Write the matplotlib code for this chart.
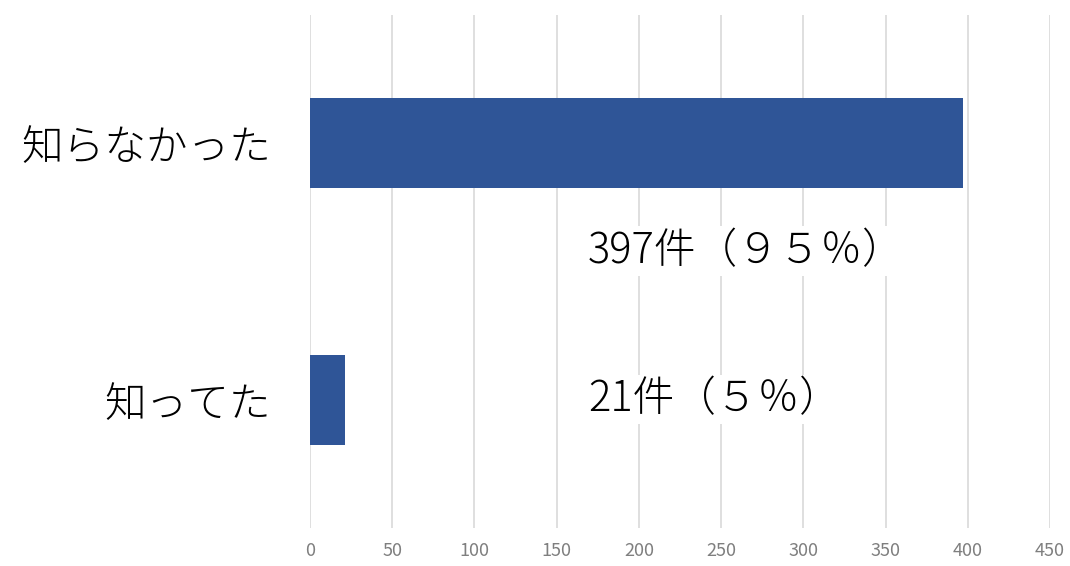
import matplotlib
matplotlib.use('Agg')
import matplotlib.pyplot as plt
import numpy as np

# --- Data ---
categories = ['知らなかった', '知ってた']
counts = [397, 21]
labels = ['397件（９５％）', '21件（５％）']
label_x = [169, 169]
label_y_offset = [0.42, 0.0]

BAR_COLOR = '#2f5597'
GRID_COLOR = '#d9d9d9'
TICK_COLOR = '#7f7f7f'

plt.rcParams['font.family'] = ['Noto Sans CJK JP', 'DejaVu Sans']

fig = plt.figure(figsize=(10.7, 5.66), dpi=100)
ax = fig.add_axes([0.2897, 0.0671, 0.6916, 0.9064])

y = np.arange(len(categories))
ax.barh(y, counts, height=0.35, color=BAR_COLOR, zorder=3)

# value labels with white background (cuts the gridlines)
for i, txt in enumerate(labels):
    ax.text(label_x[i], y[i] + label_y_offset[i], txt, ha='left', va='center',
            fontsize=30, color='black', fontweight='light', zorder=4,
            bbox=dict(facecolor='white', edgecolor='none', pad=2))

ax.set_xlim(0, 450)
ax.set_ylim(len(categories) - 0.5, -0.5)
ax.set_xticks(np.arange(0, 451, 50))
ax.set_yticks(y)
ax.set_yticklabels(categories, fontsize=30, fontweight='light')
ax.tick_params(axis='y', length=0, pad=28)
ax.tick_params(axis='x', length=0, labelsize=13, labelcolor=TICK_COLOR, pad=10)
ax.grid(axis='x', color=GRID_COLOR, linewidth=1.2, zorder=0)
ax.set_axisbelow(True)
for s in ax.spines.values():
    s.set_visible(False)

fig.savefig('out.png', dpi=100)
